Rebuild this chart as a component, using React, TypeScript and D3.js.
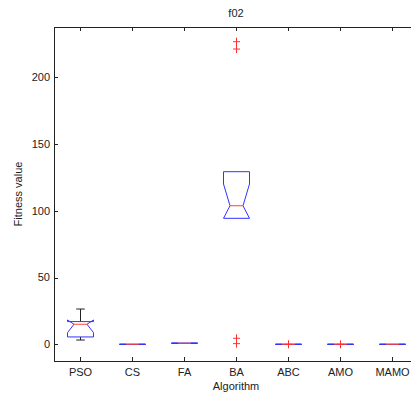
import React from "react";
import * as d3 from "d3";

const categories = ["PSO", "CS", "FA", "BA", "ABC", "AMO", "MAMO"];
const q1Values = [5.5, 0, 0.8, 94.3, 0, 0, 0];
const medianValues = [15, 0, 0.8, 103.7, 0, 0, 0];
const q3Values = [17, 0, 0.8, 129.2, 0, 0, 0];
const notchLoValues = [8.7, 0, 0.8, 94.3, 0, 0, 0];
const notchHiValues = [18.2, 0, 0.8, 120, 0, 0, 0];
const whiskerLoValues = [3.2, 0, 0.8, 94.3, 0, 0, 0];
const whiskerHiValues = [26.4, 0, 0.8, 129.2, 0, 0, 0];
const outlierValues: number[][] = [[], [], [], [226.5, 221, 4.5, 0.5], [0], [0], []];
const yTicks = [0, 50, 100, 150, 200];
const title = "f02";
const xLabel = "Algorithm";
const yLabel = "Fitness value";

const W = 411;
const H = 401;
const margin = { left: 54, top: 27, right: 418, bottom: 361 };
const FONT = "'Liberation Sans', Arial, sans-serif";

export default function App() {
  const x = d3
    .scaleLinear()
    .domain([0.5, categories.length + 0.5])
    .range([margin.left, margin.right]);
  const y = d3.scaleLinear().domain([-12.5, 237.5]).range([margin.bottom, margin.top]);
  const hw = 13;
  const ind = 6.5;
  const cap = 4.3;

  return (
    <svg
      width={W}
      height={H}
      style={{ position: "absolute", left: 0, top: 0, background: "#fff" }}
      fontFamily={FONT}
    >
      <rect x={0} y={0} width={W} height={H} fill="#fff" />
      {/* axes box */}
      <line x1={margin.left} x2={W} y1={margin.top + 0.5} y2={margin.top + 0.5} stroke="#222" />
      <line x1={margin.left} x2={W} y1={margin.bottom + 0.5} y2={margin.bottom + 0.5} stroke="#222" />
      <line x1={margin.left + 0.5} x2={margin.left + 0.5} y1={margin.top} y2={margin.bottom + 1} stroke="#222" />
      {yTicks.map((t) => (
        <g key={t}>
          <line
            x1={margin.left}
            x2={margin.left + 4}
            y1={Math.round(y(t)) + 0.5}
            y2={Math.round(y(t)) + 0.5}
            stroke="#222"
          />
          <text x={margin.left - 4} y={y(t)} dy="0.35em" textAnchor="end" fontSize={11} fill="#222">
            {t}
          </text>
        </g>
      ))}
      {categories.map((c, i) => {
        const cx = Math.round(x(i + 1)) + 0.5;
        return (
          <g key={c}>
            <line x1={cx} x2={cx} y1={margin.bottom} y2={margin.bottom - 4} stroke="#222" />
            <line x1={cx} x2={cx} y1={margin.top} y2={margin.top + 4} stroke="#222" />
            <text x={cx} y={margin.bottom + 15} textAnchor="middle" fontSize={11} fill="#222">
              {c}
            </text>
          </g>
        );
      })}
      {categories.map((c, i) => {
        const cx = Math.round(x(i + 1)) + 0.5;
        const L = cx - hw;
        const R = cx + hw;
        const pts: [number, number][] = [
          [L, y(q1Values[i])],
          [L, y(notchLoValues[i])],
          [L + ind, y(medianValues[i])],
          [L, y(notchHiValues[i])],
          [L, y(q3Values[i])],
          [R, y(q3Values[i])],
          [R, y(notchHiValues[i])],
          [R - ind, y(medianValues[i])],
          [R, y(notchLoValues[i])],
          [R, y(q1Values[i])],
        ];
        const path = d3.line()(pts) + "Z";
        const hasWhiskerHi = whiskerHiValues[i] > q3Values[i];
        const hasWhiskerLo = whiskerLoValues[i] < q1Values[i];
        return (
          <g key={c}>
            {hasWhiskerHi && (
              <g stroke="#222">
                <line x1={cx} x2={cx} y1={y(q3Values[i])} y2={y(whiskerHiValues[i])} />
                <line x1={cx - cap} x2={cx + cap} y1={y(whiskerHiValues[i])} y2={y(whiskerHiValues[i])} />
              </g>
            )}
            {hasWhiskerLo && (
              <g stroke="#222">
                <line x1={cx} x2={cx} y1={y(q1Values[i])} y2={y(whiskerLoValues[i])} />
                <line x1={cx - cap} x2={cx + cap} y1={y(whiskerLoValues[i])} y2={y(whiskerLoValues[i])} />
              </g>
            )}
            <path d={path} fill="none" stroke="#3333ff" strokeWidth={1} />
            <line
              x1={L + ind}
              x2={R - ind}
              y1={y(medianValues[i])}
              y2={y(medianValues[i])}
              stroke="#ff4040"
              strokeWidth={1}
            />
            {outlierValues[i].map((v, k) => (
              <g key={k} stroke="#ff3030" strokeWidth={1}>
                <line x1={cx - 3.5} x2={cx + 3.5} y1={y(v)} y2={y(v)} />
                <line x1={cx} x2={cx} y1={y(v) - 4} y2={y(v) + 4} />
              </g>
            ))}
          </g>
        );
      })}
      <text x={236} y={17} textAnchor="middle" fontSize={11} fill="#222">
        {title}
      </text>
      <text x={236} y={390} textAnchor="middle" fontSize={11} fill="#222">
        {xLabel}
      </text>
      <text
        transform={`translate(22, ${(margin.top + margin.bottom) / 2}) rotate(-90)`}
        textAnchor="middle"
        fontSize={11}
        fill="#222"
      >
        {yLabel}
      </text>
    </svg>
  );
}
